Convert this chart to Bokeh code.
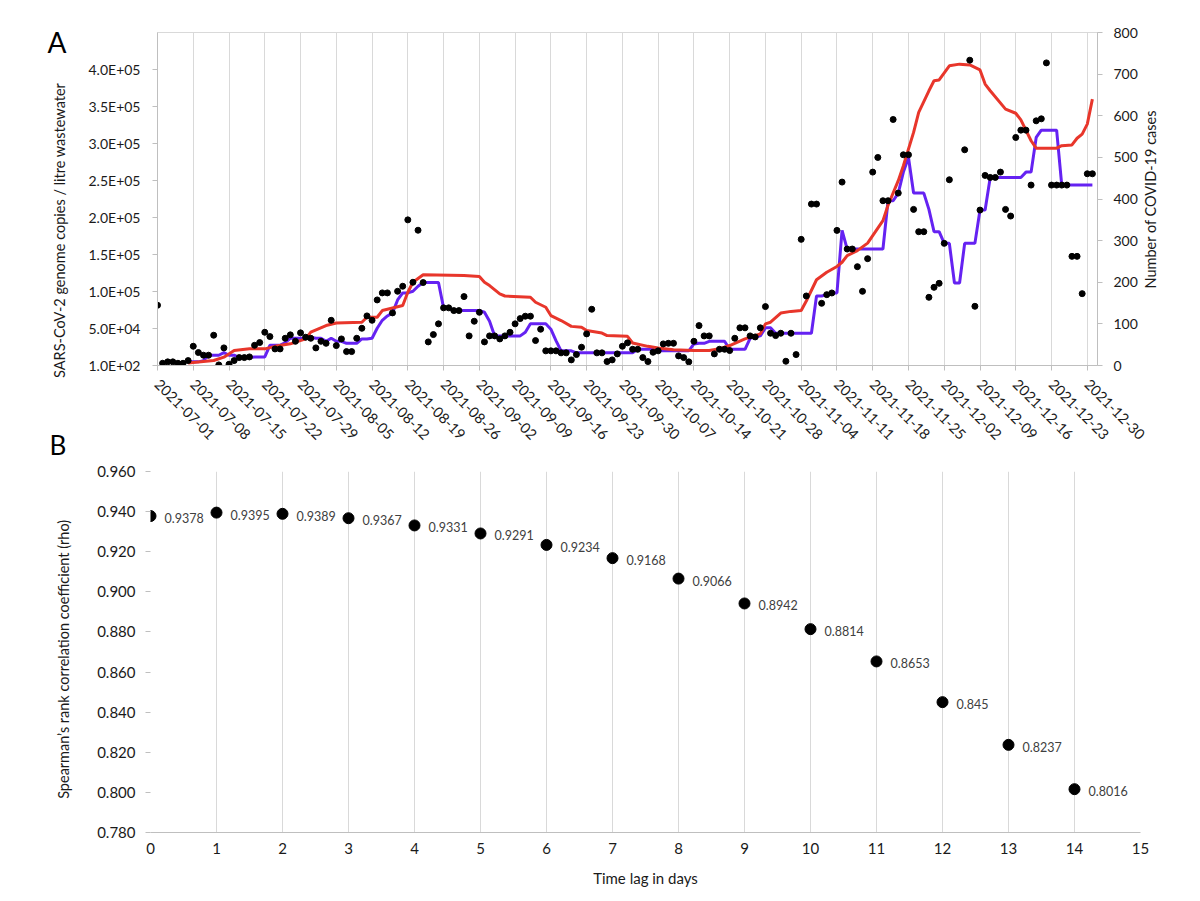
import math
from bokeh.plotting import figure
from bokeh.models import (Range1d, LinearAxis, FixedTicker, LabelSet, Title,
                          ColumnDataSource, NumeralTickFormatter)
from bokeh.core.properties import value
from bokeh.embed import file_html
from bokeh.resources import INLINE

FONT = "Lato"
NB = "\u00a0"

# ---------------- Panel A data ----------------
date_labels = ["2021-07-01", "2021-07-08", "2021-07-15", "2021-07-22", "2021-07-29",
               "2021-08-05", "2021-08-12", "2021-08-19", "2021-08-26", "2021-09-02",
               "2021-09-09", "2021-09-16", "2021-09-23", "2021-09-30", "2021-10-07",
               "2021-10-14", "2021-10-21", "2021-10-28", "2021-11-04", "2021-11-11",
               "2021-11-18", "2021-11-25", "2021-12-02", "2021-12-09", "2021-12-16",
               "2021-12-23", "2021-12-30"]
left_tick_labels = ["1.0E+02", "5.0E+04", "1.0E+05", "1.5E+05", "2.0E+05",
                    "2.5E+05", "3.0E+05", "3.5E+05", "4.0E+05"]
right_ticks = [0, 100, 200, 300, 400, 500, 600, 700, 800]

# days since 2021-07-01 ; genome copies / litre (daily wastewater values)
dot_day = list(range(0, 156)) + list(range(158, 184))
dot_val = [81500, 3100, 5000, 5000, 3100, 3100, 6750, 26100, 17600, 14000,
           14000, 41000, 900, 23900, 1800, 6750, 10800, 10800, 11700, 27400,
           31100, 45000, 39200, 22500, 22500, 36900, 41500, 32800, 44200, 38300,
           36900, 23900, 32800, 30100, 61200, 27000, 36000, 18900, 18900, 36900,
           50400, 67100, 61200, 88700, 98200, 98200, 71200, 100400, 107200, 196900,
           112600, 182900, 112200, 32000, 41900, 56400, 78000, 78000, 74300, 74300,
           93200, 40100, 59900, 72000, 32000, 40100, 40100, 36000, 40100, 45000,
           56400, 63500, 66700, 66700, 33800, 49100, 19900, 19900, 19900, 17200,
           17200, 7700, 14900, 24800, 42800, 76100, 17200, 17200, 5400, 7700,
           15800, 26100, 30700, 22000, 22000, 10800, 5400, 18000, 19900, 29300,
           30100, 30100, 13100, 10800, 5000, 32800, 54000, 40100, 40100, 15800,
           22000, 22000, 20300, 36900, 51000, 51000, 40100, 38700, 51000, 79700,
           43700, 40500, 43700, 5850, 43700, 14850, 170550, 94050, 218250, 218250,
           84150, 95850, 98100, 182700, 247950, 157500, 157500, 133650, 100350, 144450,
           261450, 281250, 222750, 222750, 332550, 233100, 284850, 284850, 211050, 180900,
           180900, 92250, 105750, 111150, 165150, 251100,
           291600, 412650, 80100, 210150, 256950, 254250, 254250, 261450, 211050, 202050,
           308250, 318150, 318150, 243900, 330750, 333450, 409050, 243900, 243900, 243900,
           243900, 147600, 147600, 97200, 259200, 259200]

# purple series (genome copies / litre), one value per day from day 6
purple_day = list(range(6, 184))
purple_val = [5000, 5000, 5000, 6750, 14000, 14000, 14000, 17600, 14000, 14000,
              10800, 10800, 10800, 11700, 11700, 11700, 27400, 27400, 27400, 31100,
              36900, 36900, 36900, 36900, 38300, 36900, 36900, 32800, 36900, 32800,
              32800, 30100, 30100, 30100, 36000, 36000, 36900, 50400, 61200, 67100,
              71200, 88700, 98200, 98200, 100400, 107200, 112200, 112200, 112200, 112200,
              78000, 78000, 74300, 74300, 74300, 74300, 74300, 74300, 72000, 59900,
              40100, 40100, 40100, 40100, 40100, 40100, 45000, 56400, 56400, 56400,
              56400, 49100, 33800, 19900, 19900, 19900, 17200, 17200, 17200, 17200,
              17200, 17200, 17200, 17200, 17200, 17200, 17200, 17200, 22000, 22000,
              22000, 22000, 19900, 19900, 19900, 19900, 19900, 19900, 19900, 29300,
              30100, 30100, 32800, 32800, 32800, 32800, 22000, 22000, 22000, 22000,
              36900, 38700, 40100, 51000, 51000, 43700, 43700, 43700, 43700, 43700,
              43700, 43700, 43700, 94050, 94050, 95850, 98100, 98100, 182700, 157500,
              157500, 157500, 157500, 157500, 157500, 157500, 157500, 222750, 222750, 233100,
              261450, 281250, 233100, 233100, 233100, 211050, 180900, 180900, 165150, 165150,
              111600, 111600, 165150, 165150, 165150, 210150, 210150, 254250, 254250, 254250,
              254250, 254250, 254250, 254250, 261450, 261450, 308250, 318150, 318150, 318150,
              318150, 243900, 243900, 243900, 243900, 243900, 243900, 243900]

# red series (number of COVID-19 cases, right axis)
red_day = [6, 11, 13, 15, 18, 21, 23, 26, 29, 30, 33, 35, 40, 41, 43, 44, 48, 49, 50, 52,
           60, 63, 64, 65, 67, 68, 73, 74, 76, 77, 79, 81, 83, 84, 87, 88, 92, 93, 96, 98,
           101, 105, 108, 110, 112, 115, 118, 119, 120, 122, 124, 126, 127, 129, 131, 133,
           134, 135, 137, 139, 141, 142, 143, 145, 146, 148, 149, 151, 152, 153, 155, 157,
           159, 161, 162, 163, 166, 168, 169, 171, 172, 176, 177, 179, 180, 181, 182, 183]
red_val = [6, 12, 20, 36, 40, 40, 46, 52, 64, 80, 96, 102, 104, 116, 116, 132, 144, 176, 200, 218,
           216, 214, 200, 192, 172, 167, 164, 152, 140, 120, 108, 94, 92, 84, 78, 72, 70, 54, 46, 42,
           38, 36, 36, 40, 48, 64, 76, 100, 104, 126, 130, 132, 155, 206, 224, 238,
           248, 264, 276, 294, 330, 348, 385, 444, 480, 560, 608, 660, 684, 686, 720, 724,
           722, 710, 676, 660, 616, 606, 590, 540, 522, 522, 528, 530, 546, 556, 580, 640]

# ---------------- Panel B data ----------------
lag_days = [0, 1, 2, 3, 4, 5, 6, 7, 8, 9, 10, 11, 12, 13, 14]
rho = [0.9378, 0.9395, 0.9389, 0.9367, 0.9331, 0.9291, 0.9234, 0.9168, 0.9066,
       0.8942, 0.8814, 0.8653, 0.845, 0.8237, 0.8016]

AXIS_GRAY = "#bfbfbf"
GRID_GRAY = "#d9d9d9"
TXT = "#1a1a1a"
PURPLE = "#6522f2"
RED = "#e8362b"

W = 1190
HA = 462
HB = 893 - HA

# ================= Panel A =================
pA = figure(width=W, height=HA, output_backend="svg", toolbar_location=None,
            title=None, x_range=Range1d(0, 184), y_range=Range1d(100, 450100),
            min_border_left=157, min_border_right=W - 1097, min_border_top=32,
            min_border_bottom=HA - 365)
pA.extra_y_ranges = {"cases": Range1d(0, 800)}
pA.background_fill_color = "white"
pA.border_fill_color = "white"
pA.outline_line_color = GRID_GRAY

week_ticks = [7 * i for i in range(len(date_labels))]
left_ticks = [100 + 50000 * i for i in range(len(left_tick_labels))]

xa = pA.xaxis[0]
xa.ticker = FixedTicker(ticks=week_ticks)
xa.major_label_overrides = {t: s for t, s in zip(week_ticks, date_labels)}
xa.major_label_orientation = -math.pi / 4
xa.major_label_text_font = FONT
xa.major_label_text_font_size = "14.5px"
xa.major_label_text_color = TXT
xa.major_label_standoff = 11
xa.axis_line_color = AXIS_GRAY
xa.major_tick_line_color = AXIS_GRAY
xa.major_tick_out = 5
xa.major_tick_in = 0
xa.minor_tick_line_color = None

ya = pA.yaxis[0]
ya.ticker = FixedTicker(ticks=left_ticks)
ya.major_label_overrides = {t: s for t, s in zip(left_ticks, left_tick_labels)}
ya.major_label_text_font = FONT
ya.major_label_text_font_size = "14px"
ya.major_label_text_color = TXT
ya.major_label_standoff = 12
ya.axis_line_color = AXIS_GRAY
ya.major_tick_line_color = AXIS_GRAY
ya.major_tick_out = 5
ya.major_tick_in = 0
ya.minor_tick_line_color = None
ya.axis_label = "SARS-CoV-2 genome copies / litre wastewater" + NB * 17
ya.axis_label_text_font = FONT
ya.axis_label_text_font_size = "14.5px"
ya.axis_label_text_font_style = "normal"
ya.axis_label_text_color = TXT
ya.axis_label_standoff = 18

ra = LinearAxis(y_range_name="cases", ticker=FixedTicker(ticks=right_ticks))
ra.major_label_text_font = FONT
ra.major_label_text_font_size = "14px"
ra.major_label_text_color = TXT
ra.major_label_standoff = 11
ra.axis_line_color = AXIS_GRAY
ra.major_tick_line_color = AXIS_GRAY
ra.major_tick_out = 5
ra.major_tick_in = 0
ra.minor_tick_line_color = None
pA.add_layout(ra, "right")

# right-hand axis title, drawn as the single label of a bare outer axis
RIGHT_TITLE_START = 185
ra2 = LinearAxis(y_range_name="cases", ticker=FixedTicker(ticks=[RIGHT_TITLE_START]))
ra2.major_label_overrides = {RIGHT_TITLE_START: "Number of COVID-19 cases"}
ra2.major_label_orientation = math.pi / 2
ra2.major_label_text_font = FONT
ra2.major_label_text_font_size = "14.5px"
ra2.major_label_text_color = TXT
ra2.major_label_standoff = 10
ra2.axis_line_color = None
ra2.major_tick_line_color = None
ra2.major_tick_out = 0
ra2.major_tick_in = 0
ra2.minor_tick_line_color = None
pA.add_layout(ra2, "right")

pA.xgrid.ticker = FixedTicker(ticks=week_ticks)
pA.xgrid.grid_line_color = GRID_GRAY
pA.ygrid.grid_line_color = None

pA.line(purple_day, purple_val, color=PURPLE, line_width=3)
pA.line(red_day, red_val, y_range_name="cases", color=RED, line_width=3)
pA.scatter(dot_day, dot_val, size=6, color="black")

tA = Title(text="A", align="left", offset=-110, standoff=-52, vertical_align="bottom",
           text_font=FONT, text_font_size="28px", text_font_style="normal",
           text_color="black")
pA.add_layout(tA, "above")
tB = Title(text="B", align="left", offset=-108, standoff=-38, vertical_align="top",
           text_font=FONT, text_font_size="26px", text_font_style="normal",
           text_color="black")
pA.add_layout(tB, "below")

# ================= Panel B =================
pB = figure(width=W, height=HB, output_backend="svg", toolbar_location=None,
            title=None, x_range=Range1d(0, 15), y_range=Range1d(0.78, 0.96),
            min_border_left=150, min_border_right=W - 1140, min_border_top=471 - HA,
            min_border_bottom=HA + HB - 832)
pB.background_fill_color = "white"
pB.border_fill_color = "white"
pB.outline_line_color = None

bx = pB.xaxis[0]
bx.ticker = FixedTicker(ticks=list(range(0, 16)))
bx.major_label_text_font = FONT
bx.major_label_text_font_size = "15px"
bx.major_label_text_color = TXT
bx.major_label_standoff = 10
bx.axis_line_color = AXIS_GRAY
bx.major_tick_line_color = None
bx.major_tick_out = 0
bx.minor_tick_line_color = None
bx.axis_label = "Time lag in days"
bx.axis_label_text_font = FONT
bx.axis_label_text_font_size = "15px"
bx.axis_label_text_font_style = "normal"
bx.axis_label_text_color = TXT
bx.axis_label_standoff = 12

by = pB.yaxis[0]
by.ticker = FixedTicker(ticks=[0.78, 0.80, 0.82, 0.84, 0.86, 0.88, 0.90, 0.92, 0.94, 0.96])
by.formatter = NumeralTickFormatter(format="0.000")
by.major_label_text_font = FONT
by.major_label_text_font_size = "15px"
by.major_label_text_color = TXT
by.major_label_standoff = 10
by.axis_line_color = None
by.major_tick_line_color = AXIS_GRAY
by.major_tick_out = 5
by.major_tick_in = 0
by.minor_tick_line_color = None
by.axis_label = "Spearman\u2019s rank correlation coefficient (rho)" + NB * 4
by.axis_label_text_font = FONT
by.axis_label_text_font_size = "14.5px"
by.axis_label_text_font_style = "normal"
by.axis_label_text_color = TXT
by.axis_label_standoff = 22

pB.xgrid.ticker = FixedTicker(ticks=list(range(0, 16)))
pB.xgrid.grid_line_color = GRID_GRAY
pB.ygrid.grid_line_color = None

srcB = ColumnDataSource(dict(x=lag_days, y=rho, t=[str(v) for v in rho]))
pB.scatter("x", "y", source=srcB, size=11, color="black")
pB.add_layout(LabelSet(x="x", y="y", text="t", source=srcB, x_offset=14, y_offset=-2,
                       text_align="left", text_baseline="middle",
                       text_font=value(FONT), text_font_size=value("12.5px"),
                       text_color="#404040"))

open("out.html", "w").write(file_html([pA, pB], INLINE))
